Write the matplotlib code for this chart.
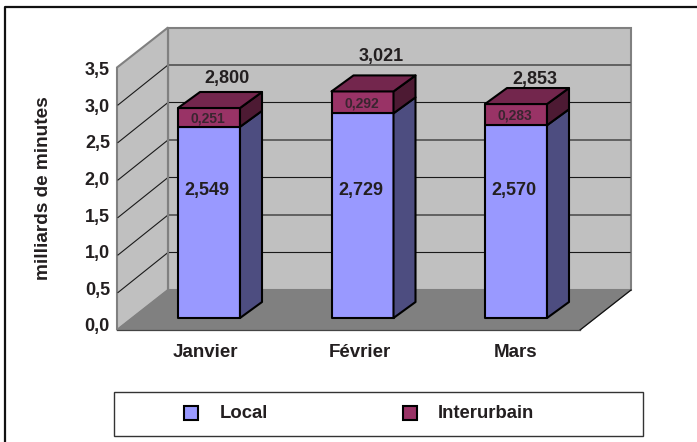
import matplotlib
matplotlib.use('Agg')
import matplotlib.pyplot as plt
from matplotlib.patches import Polygon, Rectangle

plt.rcParams['font.family'] = ['Liberation Sans', 'DejaVu Sans']

months = ['Janvier', 'Février', 'Mars']
local = [2.549, 2.729, 2.570]
interurbain = [0.251, 0.292, 0.283]
totals = [2.800, 3.021, 2.853]
yticks = [0.0, 0.5, 1.0, 1.5, 2.0, 2.5, 3.0, 3.5]

W, H = 697, 442
PX_X = 153.5   # px per category
PX_Y = 75.0    # px per unit of value
X0, Y0 = 209, 330  # first category, front floor line
INK = '#231f20'

# depth offsets in data units
DX = 51 / PX_X
DY = 40 / PX_Y
BAR_W = 62 / PX_X
BAR_DY = 12 / PX_Y
BAR_DEPTH_X = 22 / PX_X
BAR_DEPTH_Y = 16 / PX_Y
XL = (117 - X0) / PX_X
XR = (580 - X0) / PX_X
TOP = 3.5

# hand placed labels in the original, px above the top of the bar
total_nudge = [14, 19, 9]
total_dx = [18, 19, 19]


def px(n):
    return n / PX_X


def py(n):
    return n / PX_Y


def fmt(v, nd=3):
    return f'{v:.{nd}f}'.replace('.', ',')


fig = plt.figure(figsize=(W / 100, H / 100), dpi=100)
ax = fig.add_axes([0, 0, 1, 1])
ax.set_xlim(-X0 / PX_X, (W - X0) / PX_X)
ax.set_ylim(-(H - Y0) / PX_Y, Y0 / PX_Y)
ax.axis('off')

# outer frame, only top and left show
ax.plot([4.5 / W, 4.5 / W, 1], [0, 1 - 7 / H, 1 - 7 / H], transform=ax.transAxes,
        color='#111111', lw=1.6, zorder=1, clip_on=False)

# walls and floor
ax.add_patch(Polygon([(XL + DX, DY), (XR + DX, DY), (XR + DX, TOP + DY), (XL + DX, TOP + DY)],
                     fc='#c0c0c0', ec='#808080', lw=1.5, zorder=2))
ax.add_patch(Polygon([(XL, 0), (XL + DX, DY), (XL + DX, TOP + DY), (XL, TOP)],
                     fc='#c0c0c0', ec='#808080', lw=1.5, zorder=2))
ax.add_patch(Polygon([(XL, 0), (XR, 0), (XR + DX, DY), (XL + DX, DY)],
                     fc='#808080', ec='#808080', lw=0.8, zorder=3))
ax.plot([XR, XR + DX], [0, DY], color='#111111', lw=0.9, zorder=3)
ax.plot([XL, XR], [0, 0], color='#444444', lw=0.9, zorder=3)

# gridlines
for t in yticks[1:-1]:
    ax.plot([XL + px(1), XL + DX, XR + DX - px(1)], [t, t + DY, t + DY], color='#1a1a1a', lw=0.8, zorder=3)
ax.plot([XL + DX, XL + DX], [0 + DY, TOP + DY], color='#808080', lw=1.5, zorder=3)

# value axis labels, spaced a bit tighter than the axis as in the original
for t in yticks:
    ax.text(XL - px(7), py(3) + t * 0.977, fmt(t, 1), ha='right', va='center', fontsize=13,
            fontweight='bold', color=INK, zorder=6)
ax.text(px(44 - X0), py(Y0 - 188), 'milliards de minutes', rotation=90, ha='center', va='center',
        fontsize=13.7, fontweight='bold', color=INK)


def bar_segment(x, y1, y2, front, side, top=None):
    l, r = x - BAR_W / 2, x + BAR_W / 2
    b1, b2 = y1 + BAR_DY, y2 + BAR_DY
    kw = dict(ec='black', lw=1.5, zorder=5, joinstyle='round')
    ax.add_patch(Polygon([(l, b1), (r, b1), (r, b2), (l, b2)], fc=front, **kw))
    ax.add_patch(Polygon([(r, b1), (r + BAR_DEPTH_X, b1 + BAR_DEPTH_Y),
                          (r + BAR_DEPTH_X, b2 + BAR_DEPTH_Y), (r, b2)], fc=side, **kw))
    if top:
        ax.add_patch(Polygon([(l, b2), (r, b2), (r + BAR_DEPTH_X, b2 + BAR_DEPTH_Y),
                              (l + BAR_DEPTH_X, b2 + BAR_DEPTH_Y)], fc=top, **kw))


for i, m in enumerate(months):
    lo, inter, tot = local[i], interurbain[i], totals[i]
    bar_segment(i, 0, lo, '#9999ff', '#4d4d80')
    bar_segment(i, lo, lo + inter, '#993366', '#4d1a33', '#73264d')
    ax.text(i - px(2), py(Y0 - 190), fmt(lo), ha='center', va='center', fontsize=13,
            fontweight='bold', color=INK, zorder=7)
    ax.text(i - px(1), BAR_DY + lo + inter / 2 - py(1), fmt(inter), ha='center', va='center',
            fontsize=10, fontweight='bold', color='#3a2530', zorder=7)
    ax.text(i + px(total_dx[i]), BAR_DY + lo + inter + BAR_DEPTH_Y + py(total_nudge[i]), fmt(tot),
            ha='center', va='center', fontsize=13, fontweight='bold', color=INK, zorder=7)
    ax.text(i * 1.01 - px(4), py(Y0 - 352.5), m, ha='center', va='center', fontsize=13.5,
            fontweight='bold', color=INK, zorder=7)

# legend box
ax.add_patch(Rectangle((114 / W, 1 - 436 / H), (643 - 114) / W, (436 - 392) / H, transform=ax.transAxes,
                       fc='white', ec='#333333', lw=1))
for sx, tx, color, label in [(184, 220, '#9999ff', 'Local'), (403, 438, '#993366', 'Interurbain')]:
    ax.add_patch(Rectangle((sx / W, 1 - 420 / H), 14 / W, 14 / H, transform=ax.transAxes,
                           fc=color, ec='black', lw=1.5, zorder=6))
    ax.text(tx / W, 1 - 414 / H, label, transform=ax.transAxes, ha='left', va='center',
            fontsize=13.3, fontweight='bold', color=INK)

fig.savefig('out.png', dpi=100)
